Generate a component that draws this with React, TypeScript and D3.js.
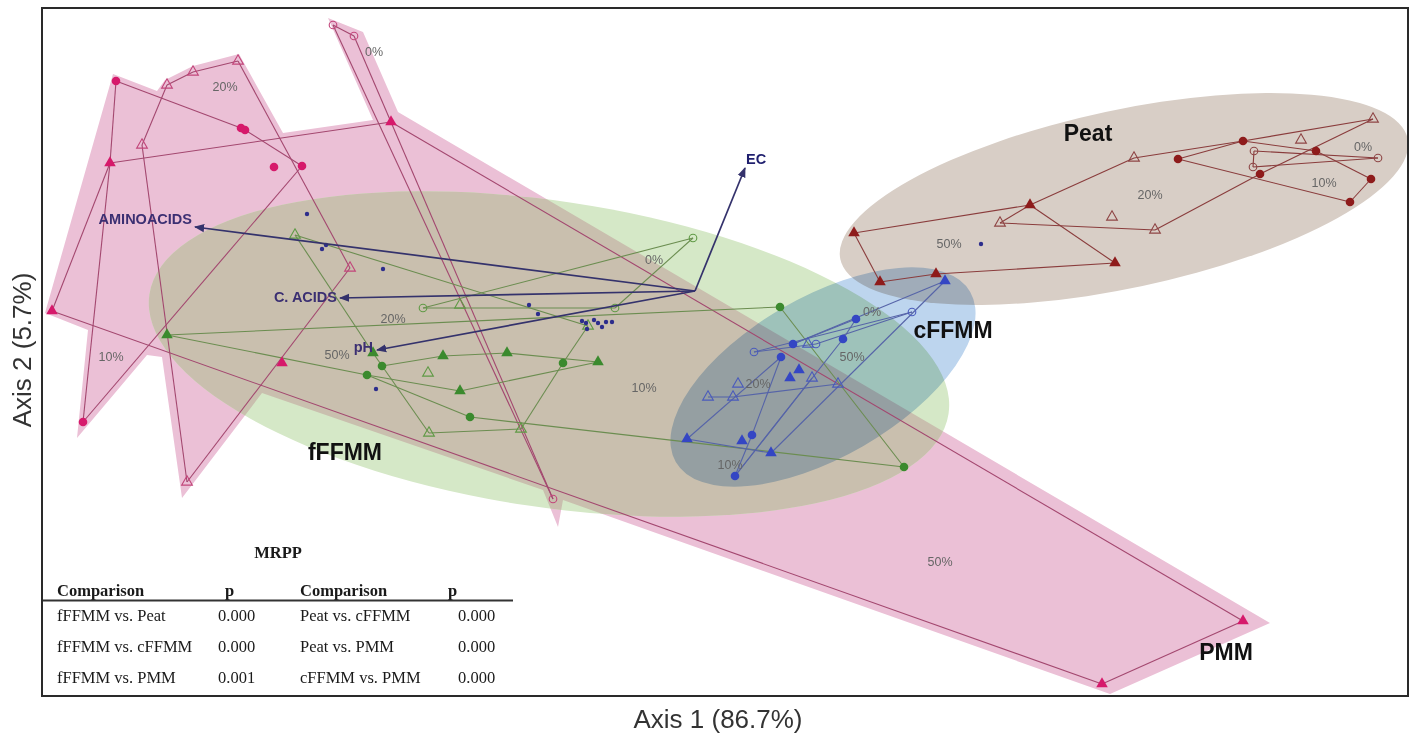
import React from "react";
import * as d3 from "d3";

const WIDTH = 1415;
const HEIGHT = 736;
const AXIS1_DOMAIN: [number, number] = [-6.53, 7.13];
const AXIS2_DOMAIN: [number, number] = [-4.05, 2.83];
const AXIS1_LABEL = "Axis 1 (86.7%)";
const AXIS2_LABEL = "Axis 2 (5.7%)";

type Shape = "fc" | "oc" | "ft" | "ot";
type Pt = { id: string; shape: Shape; x: number; y: number };
type Lbl = { text: string; x: number; y: number };

// ---------- PMM ----------
const pmmPoints: Pt[] = [
  { id: "c1", shape: "fc", x: -5.79, y: 2.1 },
  { id: "c2", shape: "fc", x: -4.54, y: 1.63 },
  { id: "c3", shape: "fc", x: -4.5, y: 1.61 },
  { id: "c4", shape: "fc", x: -4.21, y: 1.24 },
  { id: "c5", shape: "fc", x: -3.93, y: 1.25 },
  { id: "c6", shape: "fc", x: -6.12, y: -1.31 },
  { id: "t1", shape: "ft", x: -5.85, y: 1.28 },
  { id: "t2", shape: "ft", x: -3.04, y: 1.69 },
  { id: "t3", shape: "ft", x: -6.43, y: -0.2 },
  { id: "t4", shape: "ft", x: -4.13, y: -0.72 },
  { id: "t5", shape: "ft", x: 5.48, y: -3.3 },
  { id: "t6", shape: "ft", x: 4.07, y: -3.93 },
  { id: "o1", shape: "ot", x: -5.28, y: 2.06 },
  { id: "o2", shape: "ot", x: -5.02, y: 2.19 },
  { id: "o3", shape: "ot", x: -4.57, y: 2.3 },
  { id: "o4", shape: "ot", x: -5.53, y: 1.46 },
  { id: "o5", shape: "ot", x: -3.45, y: 0.23 },
  { id: "o6", shape: "ot", x: -5.08, y: -1.91 },
  { id: "e1", shape: "oc", x: -3.62, y: 2.66 },
  { id: "e2", shape: "oc", x: -3.41, y: 2.55 },
  { id: "e3", shape: "oc", x: -1.42, y: -2.08 },
];
const pmmLinks: [string, string][] = [
  ["c1", "c2"], ["c2", "c3"], ["c3", "c5"], ["c5", "c6"], ["c1", "t1"], ["t1", "c6"],
  ["t1", "t2"], ["t2", "t5"], ["t5", "t6"], ["t6", "t3"], ["t3", "t1"],
  ["o1", "o2"], ["o2", "o3"], ["o3", "o5"], ["o5", "o6"], ["o6", "o4"], ["o4", "o1"],
  ["e1", "e2"], ["e2", "e3"], ["e3", "e1"],
];
const pmmHull: [number, number][] = [
  [-5.82, 2.17], [-5.38, 2.0], [-5.3, 2.11], [-5.02, 2.25], [-4.56, 2.37], [-4.12, 1.58],
  [-3.22, 1.71], [-3.67, 2.73], [-3.32, 2.59], [-2.97, 1.79], [5.75, -3.32], [4.15, -4.03],
  [-1.32, -2.09], [-1.37, -2.36], [-1.52, -1.99], [-4.33, -1.02], [-5.13, -2.07],
  [-5.33, -0.66], [-5.48, -0.64], [-6.18, -1.47], [-6.07, -0.39], [-6.5, -0.22],
];
const pmmPercent: Lbl[] = [
  { text: "20%", x: -4.7, y: 2.04 },
  { text: "0%", x: -3.21, y: 2.39 },
  { text: "10%", x: -5.84, y: -0.66 },
  { text: "50%", x: 2.45, y: -2.71 },
];

// ---------- fFFMM ----------
const fffmmPoints: Pt[] = [
  { id: "oc1", shape: "oc", x: -0.02, y: 0.53 },
  { id: "oc2", shape: "oc", x: -2.72, y: -0.17 },
  { id: "oc3", shape: "oc", x: -0.8, y: -0.17 },
  { id: "ot1", shape: "ot", x: -4.0, y: 0.56 },
  { id: "ot2", shape: "ot", x: -2.35, y: -0.14 },
  { id: "ot3", shape: "ot", x: -2.67, y: -0.82 },
  { id: "ot4", shape: "ot", x: -2.66, y: -1.42 },
  { id: "ot5", shape: "ot", x: -1.74, y: -1.38 },
  { id: "ot6", shape: "ot", x: -1.07, y: -0.35 },
  { id: "t1", shape: "ft", x: -5.28, y: -0.44 },
  { id: "t2", shape: "ft", x: -3.22, y: -0.62 },
  { id: "t3", shape: "ft", x: -2.52, y: -0.65 },
  { id: "t4", shape: "ft", x: -1.88, y: -0.62 },
  { id: "t5", shape: "ft", x: -0.97, y: -0.71 },
  { id: "t6", shape: "ft", x: -2.35, y: -1.0 },
  { id: "c1", shape: "fc", x: -3.13, y: -0.75 },
  { id: "c2", shape: "fc", x: -3.28, y: -0.84 },
  { id: "c3", shape: "fc", x: -1.32, y: -0.72 },
  { id: "c4", shape: "fc", x: -2.25, y: -1.26 },
  { id: "c5", shape: "fc", x: 0.85, y: -0.16 },
  { id: "c6", shape: "fc", x: 2.09, y: -1.76 },
];
const fffmmLinks: [string, string][] = [
  ["oc1", "oc2"], ["oc2", "oc3"], ["oc3", "oc1"],
  ["ot1", "ot6"], ["ot1", "t2"], ["t2", "ot4"], ["ot4", "ot5"], ["ot5", "c3"], ["c3", "ot6"],
  ["t1", "c5"], ["c5", "c6"], ["c6", "c4"], ["c4", "c2"], ["c2", "t1"],
  ["c1", "t3"], ["t3", "t4"], ["t4", "t5"], ["t5", "t6"], ["t6", "c2"],
];
const fffmmPercent: Lbl[] = [
  { text: "0%", x: -0.41, y: 0.31 },
  { text: "20%", x: -3.02, y: -0.28 },
  { text: "50%", x: -3.58, y: -0.64 },
  { text: "10%", x: -0.51, y: -0.97 },
];

// ---------- Peat ----------
const peatPoints: Pt[] = [
  { id: "t1", shape: "ft", x: 1.59, y: 0.58 },
  { id: "t2", shape: "ft", x: 3.35, y: 0.86 },
  { id: "t3", shape: "ft", x: 4.2, y: 0.28 },
  { id: "t4", shape: "ft", x: 1.85, y: 0.09 },
  { id: "t5", shape: "ft", x: 2.41, y: 0.17 },
  { id: "ot1", shape: "ot", x: 4.39, y: 1.33 },
  { id: "ot2", shape: "ot", x: 3.05, y: 0.68 },
  { id: "ot3", shape: "ot", x: 4.6, y: 0.61 },
  { id: "ot4", shape: "ot", x: 4.17, y: 0.74 },
  { id: "ot5", shape: "ot", x: 6.06, y: 1.51 },
  { id: "ot6", shape: "ot", x: 6.78, y: 1.72 },
  { id: "c1", shape: "fc", x: 4.83, y: 1.32 },
  { id: "c2", shape: "fc", x: 5.48, y: 1.5 },
  { id: "c3", shape: "fc", x: 6.21, y: 1.4 },
  { id: "c4", shape: "fc", x: 5.65, y: 1.17 },
  { id: "c5", shape: "fc", x: 6.76, y: 1.12 },
  { id: "c6", shape: "fc", x: 6.55, y: 0.89 },
  { id: "oc1", shape: "oc", x: 5.59, y: 1.4 },
  { id: "oc2", shape: "oc", x: 5.58, y: 1.24 },
  { id: "oc3", shape: "oc", x: 6.83, y: 1.33 },
];
const peatLinks: [string, string][] = [
  ["t1", "t2"], ["t1", "t4"], ["t4", "t5"], ["t5", "t3"], ["t3", "t2"],
  ["t2", "ot2"], ["ot2", "ot3"], ["ot3", "c4"], ["c4", "ot6"], ["ot6", "c2"], ["c2", "ot1"], ["ot1", "t2"],
  ["c1", "c2"], ["c2", "c3"], ["c3", "c5"], ["c5", "c6"], ["c6", "c1"],
  ["oc1", "oc3"], ["oc3", "oc2"], ["oc2", "oc1"],
];
const peatPercent: Lbl[] = [
  { text: "50%", x: 2.54, y: 0.47 },
  { text: "20%", x: 4.55, y: 0.96 },
  { text: "10%", x: 6.29, y: 1.08 },
  { text: "0%", x: 6.68, y: 1.44 },
];

// ---------- cFFMM ----------
const cffmmPoints: Pt[] = [
  { id: "c1", shape: "fc", x: 1.61, y: -0.28 },
  { id: "c2", shape: "fc", x: 1.48, y: -0.48 },
  { id: "c3", shape: "fc", x: 0.98, y: -0.53 },
  { id: "c4", shape: "fc", x: 0.86, y: -0.66 },
  { id: "c5", shape: "fc", x: 0.57, y: -1.44 },
  { id: "c6", shape: "fc", x: 0.4, y: -1.85 },
  { id: "t1", shape: "ft", x: 2.5, y: 0.1 },
  { id: "t2", shape: "ft", x: 1.04, y: -0.79 },
  { id: "t3", shape: "ft", x: 0.95, y: -0.87 },
  { id: "t4", shape: "ft", x: -0.08, y: -1.48 },
  { id: "t5", shape: "ft", x: 0.47, y: -1.5 },
  { id: "t6", shape: "ft", x: 0.76, y: -1.62 },
  { id: "oc1", shape: "oc", x: 2.17, y: -0.21 },
  { id: "oc2", shape: "oc", x: 0.59, y: -0.61 },
  { id: "oc3", shape: "oc", x: 1.21, y: -0.53 },
  { id: "ot1", shape: "ot", x: 1.13, y: -0.53 },
  { id: "ot2", shape: "ot", x: 0.43, y: -0.93 },
  { id: "ot3", shape: "ot", x: 0.13, y: -1.06 },
  { id: "ot4", shape: "ot", x: 0.38, y: -1.06 },
  { id: "ot5", shape: "ot", x: 1.17, y: -0.87 },
  { id: "ot6", shape: "ot", x: 1.43, y: -0.93 },
];
const cffmmLinks: [string, string][] = [
  ["oc1", "oc2"], ["oc2", "oc3"], ["oc3", "oc1"],
  ["t1", "c3"], ["t1", "t6"], ["c1", "c3"], ["c1", "c2"], ["c2", "c6"], ["c4", "c5"], ["c5", "c6"],
  ["ot3", "ot4"], ["ot4", "ot6"], ["t4", "c4"], ["t4", "t6"], ["ot5", "c6"],
];
const cffmmPercent: Lbl[] = [
  { text: "0%", x: 1.77, y: -0.21 },
  { text: "50%", x: 1.57, y: -0.66 },
  { text: "20%", x: 0.63, y: -0.93 },
  { text: "10%", x: 0.35, y: -1.74 },
];

// small unlabeled sample points
const extraDots: [number, number][] = [
  [-3.88, 0.77], [-3.73, 0.42], [-3.69, 0.46], [-3.12, 0.22], [-1.66, -0.14], [-1.57, -0.23],
  [-1.13, -0.3], [-1.09, -0.32], [-1.08, -0.38], [-1.01, -0.29], [-0.97, -0.32], [-0.93, -0.36],
  [-0.89, -0.31], [-0.83, -0.31], [-3.19, -0.98], [2.86, 0.47],
];

// confidence ellipses
const groupEllipses = [
  { group: "fFFMM", cx: -1.46, cy: -0.63, a: 4.04, b: 1.53, angle: 8.5 },
  { group: "Peat", cx: 4.29, cy: 0.92, a: 2.9, b: 0.89, angle: -12 },
  { group: "cFFMM", cx: 1.28, cy: -0.86, a: 1.7, b: 0.8, angle: -30 },
];

const groupNames = [
  { text: "fFFMM", x: -3.5, y: -1.61 },
  { text: "Peat", x: 3.93, y: 1.58 },
  { text: "cFFMM", x: 2.58, y: -0.39 },
  { text: "PMM", x: 5.31, y: -3.61 },
];

// biplot vectors
const vectors = [
  { name: "AMINOACIDS", x: -5.0, y: 0.64 },
  { name: "C. ACIDS", x: -3.55, y: -0.07 },
  { name: "pH", x: -3.18, y: -0.59 },
  { name: "EC", x: 0.5, y: 1.23 },
];

// MRPP table
const mrppTitle = "MRPP";
const mrppHeader = ["Comparison", "p", "Comparison", "p"];
const mrppRows = [
  ["fFFMM vs. Peat", "0.000", "Peat vs. cFFMM", "0.000"],
  ["fFFMM vs. cFFMM", "0.000", "Peat vs. PMM", "0.000"],
  ["fFFMM vs. PMM", "0.001", "cFFMM vs. PMM", "0.000"],
];

const STYLE: Record<string, { point: string; open: string; line: string }> = {
  PMM: { point: "#d6196b", open: "#c2457a", line: "#a3476f" },
  fFFMM: { point: "#3b8a2e", open: "#5f9a45", line: "#6b8d50" },
  Peat: { point: "#8e1b1b", open: "#8e4545", line: "#8a3c3c" },
  cFFMM: { point: "#3446c4", open: "#4a5bbc", line: "#5664a8" },
};
const VEC_LABEL: Record<string, { dx: number; dy: number; anchor: string }> = {
  AMINOACIDS: { dx: -3, dy: -8, anchor: "end" },
  "C. ACIDS": { dx: -3, dy: -1, anchor: "end" },
  pH: { dx: -4, dy: -3, anchor: "end" },
  EC: { dx: 1, dy: -9, anchor: "start" },
};

const SANS = "'Liberation Sans', Arial, Helvetica, sans-serif";
const SERIF = "'Liberation Serif', 'Times New Roman', serif";

export default function App() {
  const x = d3.scaleLinear().domain(AXIS1_DOMAIN).range([42, 1408]);
  const y = d3.scaleLinear().domain(AXIS2_DOMAIN).range([696, 8]);
  const ux = x(1) - x(0);
  const uy = y(0) - y(1);

  const hullPath =
    d3
      .line<[number, number]>()
      .x((d) => x(d[0]))
      .y((d) => y(d[1]))
      .curve(d3.curveLinearClosed)(pmmHull) || "";

  const triFilled = d3.symbol().type(d3.symbolTriangle).size(58)() || "";
  const triOpen = d3.symbol().type(d3.symbolTriangle).size(50)() || "";

  const groups = [
    { key: "PMM", points: pmmPoints, links: pmmLinks, pct: pmmPercent },
    { key: "fFFMM", points: fffmmPoints, links: fffmmLinks, pct: fffmmPercent },
    { key: "Peat", points: peatPoints, links: peatLinks, pct: peatPercent },
    { key: "cFFMM", points: cffmmPoints, links: cffmmLinks, pct: cffmmPercent },
  ];

  const ell = (g: string) => groupEllipses.find((e) => e.group === g)!;
  const ellipseEl = (g: string, fill: string, style?: React.CSSProperties) => {
    const e = ell(g);
    return (
      <ellipse
        cx={0}
        cy={0}
        rx={e.a * ux}
        ry={e.b * uy}
        fill={fill}
        style={style}
        transform={`translate(${x(e.cx)},${y(e.cy)}) rotate(${e.angle})`}
      />
    );
  };

  const renderPoint = (p: Pt, g: string, i: number) => {
    const s = STYLE[g];
    const cx = x(p.x);
    const cy = y(p.y);
    if (p.shape === "fc") return <circle key={i} cx={cx} cy={cy} r={4.3} fill={s.point} />;
    if (p.shape === "oc")
      return <circle key={i} cx={cx} cy={cy} r={3.8} fill="none" stroke={s.open} strokeWidth={1.1} />;
    if (p.shape === "ft")
      return <path key={i} d={triFilled} transform={`translate(${cx},${cy})`} fill={s.point} />;
    return (
      <path key={i} d={triOpen} transform={`translate(${cx},${cy})`} fill="none" stroke={s.open} strokeWidth={1.1} />
    );
  };

  const colX = [57, 218, 300, 458];
  const headX = [57, 225, 300, 448];
  const rowY = [621, 652, 683];

  return (
    <svg
      width={WIDTH}
      height={HEIGHT}
      style={{ position: "absolute", left: 0, top: 0, display: "block", background: "#fff" }}
      fontFamily={SANS}
    >
      <defs>
        <clipPath id="pmmClip">
          <path d={hullPath} />
        </clipPath>
        <marker id="vecArrow" viewBox="0 0 10 10" refX="9" refY="5" markerWidth="6" markerHeight="6" orient="auto">
          <path d="M0,1 L10,5 L0,9 z" fill="#34326c" />
        </marker>
      </defs>
      <rect x={0} y={0} width={WIDTH} height={HEIGHT} fill="#fff" />

      {/* fills */}
      <path d={hullPath} fill="#ebc0d6" />
      {ellipseEl("fFFMM", "#d5e8c7")}
      <g clipPath="url(#pmmClip)">{ellipseEl("fFFMM", "#c9bfae")}</g>
      {ellipseEl("Peat", "#d8cec6")}
      {ellipseEl("cFFMM", "#bdd5ee", { mixBlendMode: "multiply" })}

      {/* trajectory lines */}
      {groups.map((g) => {
        const byId = new Map(g.points.map((p) => [p.id, p]));
        return (
          <g key={g.key + "l"} stroke={STYLE[g.key].line} strokeWidth={1.1} fill="none">
            {g.links.map(([a, b], i) => {
              const pa = byId.get(a)!;
              const pb = byId.get(b)!;
              return <line key={i} x1={x(pa.x)} y1={y(pa.y)} x2={x(pb.x)} y2={y(pb.y)} />;
            })}
          </g>
        );
      })}

      {/* percent labels */}
      {groups.map((g) => (
        <g key={g.key + "p"} fontSize={12.5} fill="#666" textAnchor="middle">
          {g.pct.map((l, i) => (
            <text key={i} x={x(l.x)} y={y(l.y)} dominantBaseline="central">
              {l.text}
            </text>
          ))}
        </g>
      ))}

      {/* markers */}
      {groups.map((g) => (
        <g key={g.key + "m"}>{g.points.map((p, i) => renderPoint(p, g.key, i))}</g>
      ))}
      {extraDots.map((d, i) => (
        <circle key={"d" + i} cx={x(d[0])} cy={y(d[1])} r={2.2} fill="#2d2d8c" />
      ))}

      {/* biplot vectors */}
      {vectors.map((v, i) => (
        <line
          key={"v" + i}
          x1={x(0)}
          y1={y(0)}
          x2={x(v.x)}
          y2={y(v.y)}
          stroke="#34326c"
          strokeWidth={1.7}
          markerEnd="url(#vecArrow)"
        />
      ))}
      {vectors.map((v, i) => {
        const o = VEC_LABEL[v.name];
        return (
          <text
            key={"vt" + i}
            x={x(v.x) + o.dx}
            y={y(v.y) + o.dy}
            textAnchor={o.anchor as any}
            dominantBaseline="central"
            fontSize={14.5}
            fontWeight="bold"
            fill={v.name === "EC" ? "#1f1f6e" : "#3b2f72"}
          >
            {v.name}
          </text>
        );
      })}

      {/* group names */}
      {groupNames.map((g, i) => (
        <text
          key={"g" + i}
          x={x(g.x)}
          y={y(g.y)}
          textAnchor="middle"
          dominantBaseline="central"
          fontSize={23}
          fontWeight="bold"
          fill="#111"
        >
          {g.text}
        </text>
      ))}

      {/* MRPP table */}
      <g fontFamily={SERIF} fontSize={16.5} fill="#1a1a1a">
        <text x={278} y={558} textAnchor="middle" fontWeight="bold">
          {mrppTitle}
        </text>
        {mrppHeader.map((h, i) => (
          <text key={"h" + i} x={headX[i]} y={596} fontWeight="bold">
            {h}
          </text>
        ))}
        <line x1={42} x2={513} y1={600.5} y2={600.5} stroke="#333" strokeWidth={2} />
        {mrppRows.map((r, ri) =>
          r.map((c, ci) => (
            <text key={ri + "-" + ci} x={colX[ci]} y={rowY[ri]}>
              {c}
            </text>
          ))
        )}
      </g>

      {/* frame */}
      <rect x={42} y={8} width={1366} height={688} fill="none" stroke="#2a2a2a" strokeWidth={2} />

      {/* axis titles */}
      <text x={718} y={728} textAnchor="middle" fontSize={26} fill="#333">
        {AXIS1_LABEL}
      </text>
      <text
        transform="translate(31,350) rotate(-90)"
        textAnchor="middle"
        fontSize={26}
        fill="#333"
      >
        {AXIS2_LABEL}
      </text>
    </svg>
  );
}
